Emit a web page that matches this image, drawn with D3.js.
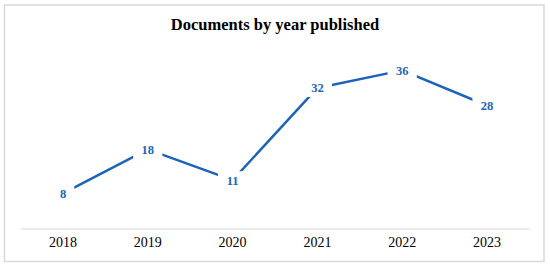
<!DOCTYPE html>
<html>
<head>
<meta charset="utf-8">
<script src="https://cdn.jsdelivr.net/npm/d3@7"></script>
<style>
  html, body { margin: 0; padding: 0; background: #fff; }
  svg { display: block; }
</style>
</head>
<body>
<div id="chart"></div>
<script>
// data
const years = ['2018', '2019', '2020', '2021', '2022', '2023'];
const docs = [8, 18, 11, 32, 36, 28];
const yDomain = [0, 40];

const width = 550, height = 267;
const lineColor = '#1c64b8';

const svg = d3.select('#chart').append('svg')
  .attr('width', width)
  .attr('height', height);

svg.append('rect')
  .attr('width', width).attr('height', height)
  .attr('fill', '#fff');

// outer frame
svg.append('rect')
  .attr('x', 4.5).attr('y', 5)
  .attr('width', 539.5).attr('height', 256.5)
  .attr('fill', 'none')
  .attr('stroke', '#d9d9d9')
  .attr('stroke-width', 1.5);

svg.append('text')
  .attr('x', 275).attr('y', 30)
  .attr('text-anchor', 'middle')
  .attr('font-family', '"Liberation Serif", "Times New Roman", serif')
  .attr('font-weight', 'bold')
  .attr('font-size', '16.5px')
  .attr('fill', '#000')
  .text('Documents by year published');

const x = d3.scaleBand()
  .domain(years)
  .range([20.6, 529.4]);

const y = d3.scaleLinear()
  .domain(yDomain)
  .range([228.5, 52.8]);

const xAxis = svg.append('g')
  .attr('transform', `translate(0,${y(0)})`)
  .call(d3.axisBottom(x).tickSize(0).tickPadding(9));

xAxis.select('.domain')
  .attr('stroke', '#d9d9d9')
  .attr('stroke-width', 1.2);

xAxis.selectAll('text')
  .attr('font-family', '"Liberation Serif", "Times New Roman", serif')
  .attr('font-size', '14px')
  .attr('fill', '#000');

const cx = d => x(d.year) + x.bandwidth() / 2;
const pts = years.map((yr, i) => ({ year: yr, value: docs[i] }));

const line = d3.line()
  .x(cx)
  .y(d => y(d.value));

svg.append('path')
  .datum(pts)
  .attr('d', line)
  .attr('fill', 'none')
  .attr('stroke', lineColor)
  .attr('stroke-width', 2.5)
  .attr('stroke-linejoin', 'round');

// labels sit on the points with a white box knocking out the line
const labels = svg.selectAll('.val')
  .data(pts)
  .enter().append('g')
  .attr('class', 'val')
  .attr('transform', d => `translate(${cx(d)},${y(d.value)})`);

labels.append('rect')
  .attr('x', d => -(String(d.value).length * 3.3 + 8))
  .attr('y', -9)
  .attr('width', d => 2 * (String(d.value).length * 3.3 + 8))
  .attr('height', 18)
  .attr('fill', '#fff');

labels.append('text')
  .attr('text-anchor', 'middle')
  .attr('dy', '0.35em')
  .attr('font-family', '"Liberation Serif", "Times New Roman", serif')
  .attr('font-weight', 'bold')
  .attr('font-size', '12.5px')
  .attr('fill', lineColor)
  .text(d => d.value);
</script>
</body>
</html>
